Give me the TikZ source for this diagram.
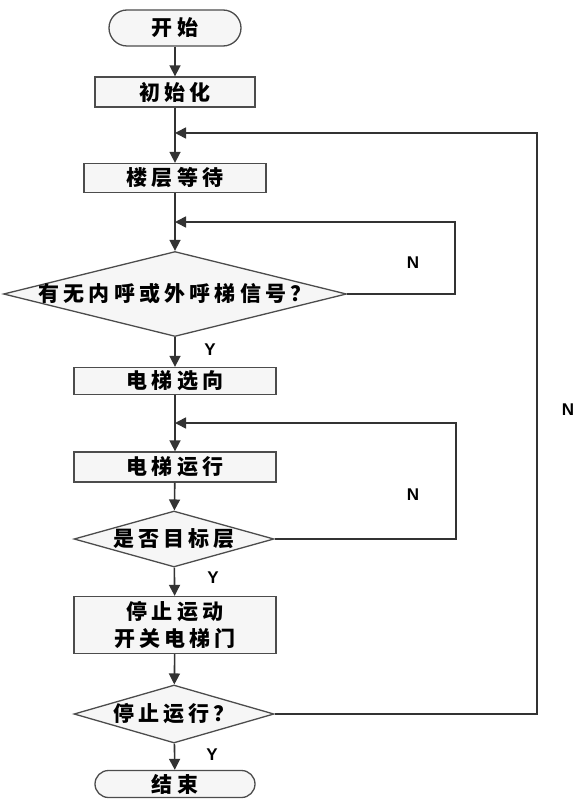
\documentclass[tikz,border=0pt]{standalone}
\usepackage{fontspec}
\setmainfont{Liberation Sans}
\newfontfamily\cjk{Noto Sans CJK SC}[LetterSpace=20]
\usepackage{tikz}
\usetikzlibrary{
    arrows.meta,
    shapes.geometric
}

\begin{document}
\begin{tikzpicture}[x=1pt,y=-1pt,
   blk/.style={rectangle,draw=black!70,line width=1.3pt,fill=gray!7,inner sep=0pt,font=\cjk\bfseries\fontsize{21}{27}\selectfont},
   term/.style={blk},
   dec/.style={diamond,draw=black!70,line width=1.3pt,fill=gray!7,inner sep=0pt,font=\cjk\bfseries\fontsize{21}{27}\selectfont},
   yn/.style={font=\bfseries\fontsize{17}{20}\selectfont},
   arr/.style={draw=black!80,line width=1.6pt,-{Triangle[length=11pt,width=11pt]}}]
  \useasboundingbox (0,0) rectangle (586,805);
  % main column
  \node[term,minimum width=132pt,minimum height=36pt,rounded corners=18pt](start) at (175,28){开始};
  \node[blk,minimum width=160pt,minimum height=30pt](init) at (175,92){初始化};
  \node[blk,minimum width=182pt,minimum height=29pt](wait) at (175,178){楼层等待};
  \node[dec,minimum width=343pt,minimum height=85pt](ask) at (175,294){\makebox[0pt]{有无内呼或外呼梯信号？}};
  \node[blk,minimum width=202pt,minimum height=27pt](dir) at (175,381){电梯选向};
  \node[blk,minimum width=202pt,minimum height=30pt](run) at (175,467){电梯运行};
  \node[dec,minimum width=200pt,minimum height=56pt](dest) at (174,539){\makebox[0pt]{是否目标层}};
  \node[blk,minimum width=202pt,minimum height=57pt,align=center](stop) at (175,625){停止运动\\开关电梯门};
  \node[dec,minimum width=200pt,minimum height=58pt](halt) at (174,714){\makebox[0pt]{停止运行？}};
  \node[term,minimum width=160pt,minimum height=27pt,rounded corners=13.5pt](fin) at (175,784){结束};
  \draw[arr] (start) -- (init); \draw[arr] (init) -- (wait); \draw[arr] (wait) -- (ask);
  \draw[arr] (ask) -- (dir); \draw[arr] (dir) -- (run); \draw[arr] (run) -- (dest);
  \draw[arr] (dest) -- (stop); \draw[arr] (stop) -- (halt); \draw[arr] (halt) -- (fin);
  % loop-backs (N)
  \coordinate (j0) at (175,133); \coordinate (r0) at (537,133);
  \coordinate (j1) at (175,222); \coordinate (r1) at (455,222);
  \coordinate (j2) at (175,423); \coordinate (r2) at (456,423);
  \draw[arr] (ask.east) -| (r1) -- (j1);
  \draw[arr] (dest.east) -| (r2) -- (j2);
  \draw[arr] (halt.east) -| (r0) -- (j0);
  % Y/N labels
  \node[yn](n1) at (413,263){N}; \node[yn](n2) at (413,495){N}; \node[yn](n0) at (568,410){N};
  \node[yn](y1) at (210,350){Y}; \node[yn](y2) at (213,578){Y}; \node[yn](y3) at (212,755){Y};
\end{tikzpicture}
\end{document}
